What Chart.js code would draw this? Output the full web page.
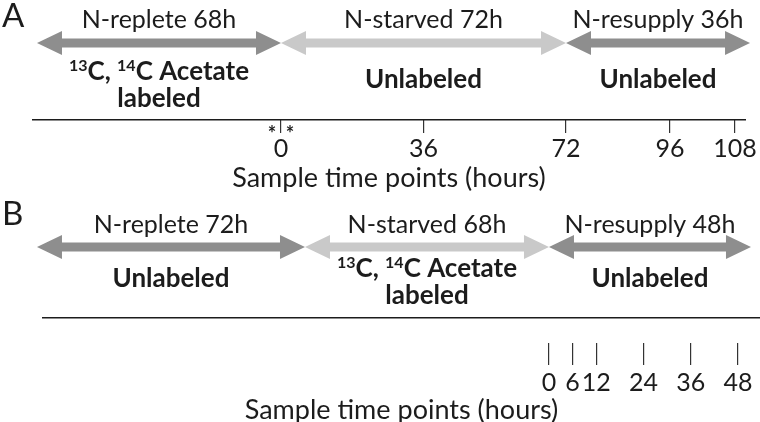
<!DOCTYPE html>
<html>
<head>
<meta charset="utf-8">
<script src="https://cdn.jsdelivr.net/npm/chart.js@4.4.1/dist/chart.umd.min.js"></script>
<style>
  html, body { margin: 0; padding: 0; background: #fff; }
  .panel { position: relative; width: 760px; }
  #wrapA { height: 200px; }
  #wrapB { height: 222px; }
</style>
</head>
<body>
<div class="panel" id="wrapA"><canvas id="chartA"></canvas></div>
<div class="panel" id="wrapB"><canvas id="chartB"></canvas></div>
<script>
// --- data: panel A (hours relative to start of N-starvation)
const phaseNamesA = ["N-replete 68h", "N-starved 72h", "N-resupply 36h"];
const phaseBoundsA = [-68, 0, 72, 108];
const phaseDarkA = [true, false, true];
const phaseNotesA = [["^13C, ^14C Acetate", "labeled"], ["Unlabeled"], ["Unlabeled"]];
const sampleHoursA = [0, 36, 72, 96, 108];
const markedHoursA = [0];

// --- data: panel B (hours relative to start of N-resupply)
const phaseNamesB = ["N-replete 72h", "N-starved 68h", "N-resupply 48h"];
const phaseBoundsB = [-140, -68, 0, 48];
const phaseDarkB = [true, false, true];
const phaseNotesB = [["Unlabeled"], ["^13C, ^14C Acetate", "labeled"], ["Unlabeled"]];
const sampleHoursB = [0, 6, 12, 24, 36, 48];
const markedHoursB = [];

const axisTitle = "Sample time points (hours)";

const FONT = "Lato, 'Open Sans', sans-serif";
const INK = "#1c1c1c";
const DARK = "#8e8e8e";
const LIGHT = "#c9c9c9";

// schematic time axis: linear between break points (phases are not drawn to scale)
class SchematicScale extends Chart.LinearScale {
  static id = "schematic";
  static defaults = {};
  getPixelForValue(value) {
    const br = Array.from(this.options.breaks);
    let i = 0;
    while (i < br.length - 2 && value > br[i + 1][0]) i++;
    const [v0, f0] = br[i];
    const [v1, f1] = br[i + 1];
    return this.left + (f0 + (value - v0) / (v1 - v0) * (f1 - f0)) * this.width;
  }
}
Chart.register(SchematicScale);

function drawArrow(ctx, x0, x1, y, color) {
  const L = 25, W = 12, t = 4.5;
  ctx.beginPath();
  ctx.moveTo(x0, y);
  ctx.lineTo(x0 + L, y - W);
  ctx.lineTo(x0 + L, y - t);
  ctx.lineTo(x1 - L, y - t);
  ctx.lineTo(x1 - L, y - W);
  ctx.lineTo(x1, y);
  ctx.lineTo(x1 - L, y + W);
  ctx.lineTo(x1 - L, y + t);
  ctx.lineTo(x0 + L, y + t);
  ctx.lineTo(x0 + L, y + W);
  ctx.closePath();
  ctx.fillStyle = color;
  ctx.fill();
}

// text with ^digits drawn as superscript, centred on x
function drawRich(ctx, text, x, y, size) {
  const parts = text.split(/(\^\d+)/).filter(s => s.length);
  const big = `bold ${size}px ${FONT}`;
  const small = `bold ${Math.round(size * 0.62)}px ${FONT}`;
  let w = 0;
  parts.forEach(p => {
    ctx.font = p[0] === "^" ? small : big;
    w += ctx.measureText(p[0] === "^" ? p.slice(1) : p).width;
  });
  let cx = x - w / 2;
  ctx.textAlign = "left";
  parts.forEach(p => {
    const sup = p[0] === "^";
    const s = sup ? p.slice(1) : p;
    ctx.font = sup ? small : big;
    ctx.fillText(s, cx, sup ? y - size * 0.36 : y);
    cx += ctx.measureText(s).width;
  });
}

const phasePlugin = {
  id: "phases",
  afterDraw(chart, args, o) {
    const { ctx } = chart;
    const sc = chart.scales.x2;
    const last = o.names.length - 1;
    ctx.save();
    ctx.fillStyle = INK;
    ctx.textBaseline = "alphabetic";
    ctx.textAlign = "left";
    ctx.font = `33px ${FONT}`;
    ctx.fillText(o.letter, 2, o.letterY);

    o.names.forEach((name, i) => {
      const x0 = sc.getPixelForValue(o.bounds[i]);
      // the closing arrow head runs a little past the last sample
      const x1 = sc.getPixelForValue(o.bounds[i + 1]) + (i === last ? o.overhang : 0);
      const mid = (x0 + x1) / 2;
      drawArrow(ctx, x0, x1, o.arrowY, o.dark[i] ? DARK : LIGHT);
      ctx.fillStyle = INK;
      ctx.textAlign = "center";
      ctx.font = `25px ${FONT}`;
      ctx.fillText(name, mid, o.nameY);
      const lines = o.notes[i];
      const ys = lines.length > 1 ? o.noteY2 : [o.noteY1];
      lines.forEach((ln, k) => drawRich(ctx, ln, mid, ys[k], 26));
    });

    ctx.font = `bold 20px ${FONT}`;
    ctx.textAlign = "center";
    o.marked.forEach(h => {
      const x = sc.getPixelForValue(h);
      ctx.fillText("*", x - 9, o.starY);
      ctx.fillText("*", x + 9, o.starY);
    });
    ctx.restore();
  }
};

function makePanel(id, cfg) {
  return new Chart(document.getElementById(id), {
    type: "scatter",
    data: {
      datasets: [{
        data: cfg.samples.map(h => ({ x: h, y: 0 })),
        xAxisID: "x2",
        pointRadius: 0
      }]
    },
    options: {
      responsive: true,
      maintainAspectRatio: false,
      animation: false,
      events: [],
      layout: { padding: cfg.padding },
      plugins: {
        legend: { display: false },
        tooltip: { enabled: false },
        phases: cfg.phases
      },
      scales: {
        y: { display: false, min: -1, max: 1 },
        x: {
          type: "linear",
          position: "bottom",
          min: 0, max: 1,
          grid: { display: false, drawTicks: false },
          ticks: { display: false },
          border: { display: true, color: INK, width: 1.6 },
          afterFit: s => { s.height = cfg.gap; }
        },
        x2: {
          type: "schematic",
          position: "bottom",
          min: cfg.bounds[0],
          max: cfg.bounds[cfg.bounds.length - 1],
          breaks: cfg.breaks,
          border: { display: false },
          grid: {
            drawOnChartArea: false,
            drawTicks: true,
            tickLength: cfg.tickLength,
            color: "#333",
            lineWidth: 1.2
          },
          afterBuildTicks: s => { s.ticks = cfg.samples.map(v => ({ value: v })); },
          ticks: {
            autoSkip: false,
            maxRotation: 0,
            padding: cfg.tickPad,
            color: INK,
            font: { family: FONT, size: 25 },
            callback: v => String(v)
          },
          title: {
            display: true,
            text: axisTitle,
            color: INK,
            font: { family: FONT, size: 27, lineHeight: 1 },
            padding: { top: 0, bottom: cfg.titlePad }
          },
          afterFit: s => { s.height = cfg.axisHeight; }
        }
      }
    },
    plugins: [phasePlugin]
  });
}

makePanel("chartA", {
  samples: sampleHoursA,
  bounds: phaseBoundsA,
  breaks: [[-68, 0.0056], [0, 0.3483], [72, 0.7486], [96, 0.8947], [108, 0.986]],
  padding: { left: 33, right: 15, top: 0, bottom: 0 },
  gap: 0,
  tickLength: 13,
  tickPad: 1,
  titlePad: 8,
  axisHeight: 80,
  phases: {
    letter: "A", letterY: 27,
    names: phaseNamesA, bounds: phaseBoundsA, dark: phaseDarkA, notes: phaseNotesA,
    marked: markedHoursA, overhang: 15,
    nameY: 28, arrowY: 43, noteY1: 88, noteY2: [80, 107], starY: 141
  }
});

makePanel("chartB", {
  samples: sampleHoursB,
  bounds: phaseBoundsB,
  breaks: [[-140, -0.0084], [-68, 0.3654], [0, 0.7057], [48, 0.9693]],
  padding: { left: 43, right: 0, top: 0, bottom: 0 },
  gap: 25,
  tickLength: 22,
  tickPad: 3,
  titlePad: -2,
  axisHeight: 79,
  phases: {
    letter: "B", letterY: 25,
    names: phaseNamesB, bounds: phaseBoundsB, dark: phaseDarkB, notes: phaseNotesB,
    marked: markedHoursB, overhang: 13,
    nameY: 33, arrowY: 47, noteY1: 87, noteY2: [77, 104], starY: 0
  }
});
</script>
</body>
</html>
